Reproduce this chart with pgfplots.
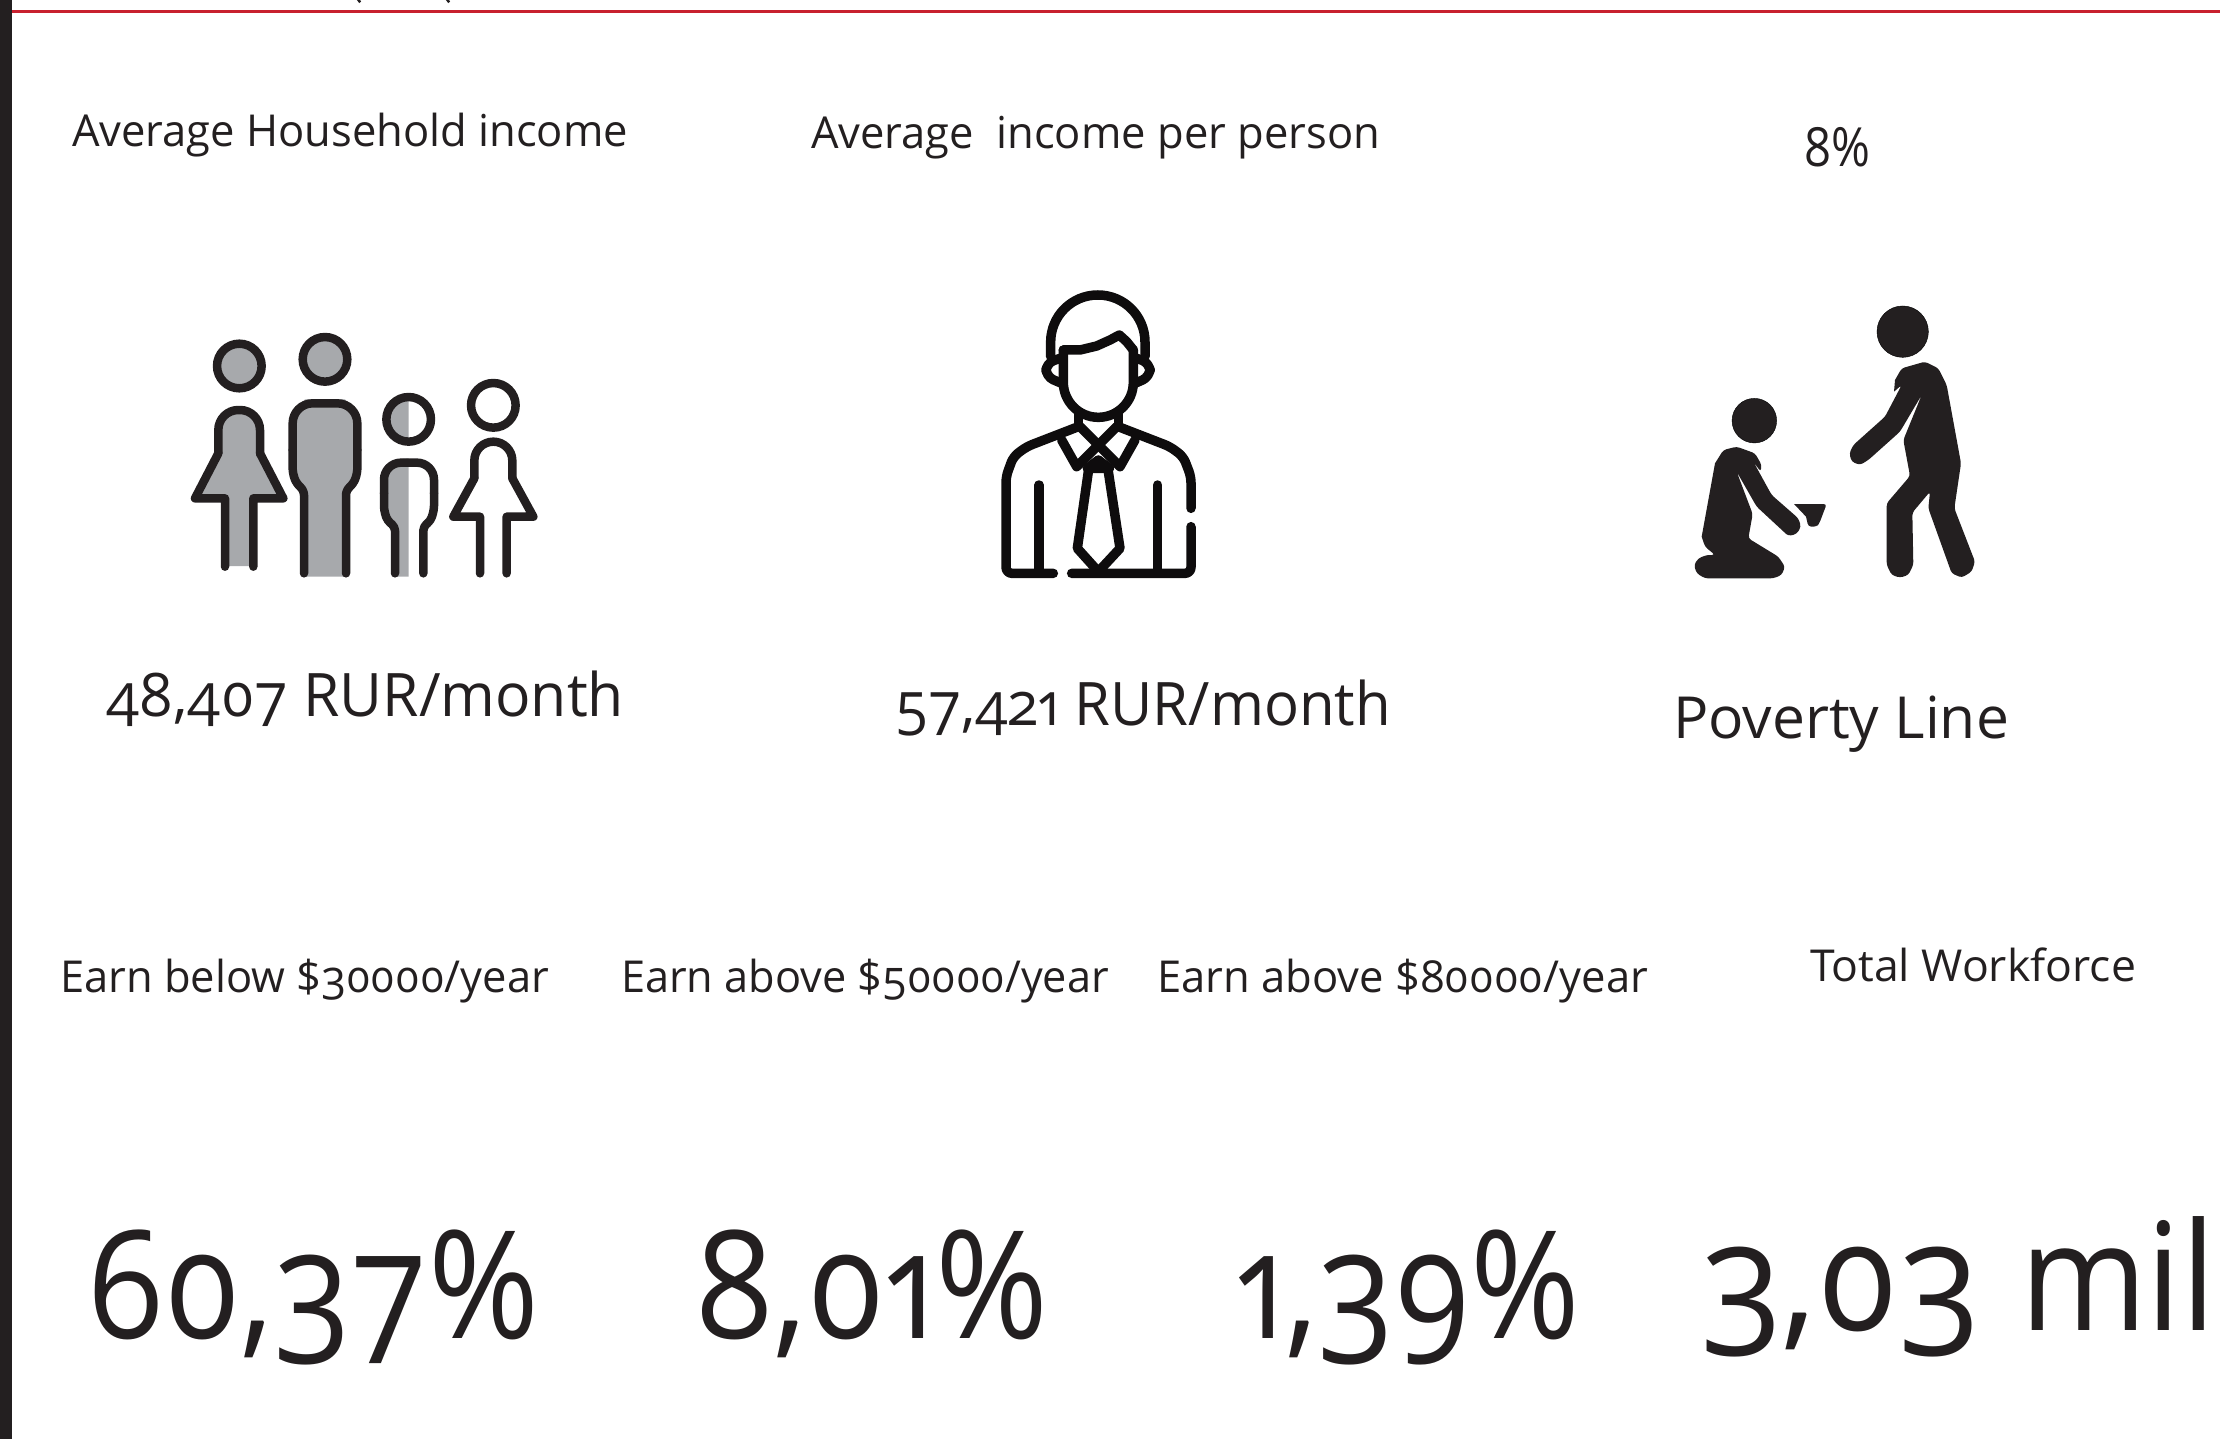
\documentclass[border=0pt]{standalone}
\usepackage{pgfplots}
\usepackage{fontspec}
\pgfplotsset{compat=1.18}
\setmainfont[Numbers=OldStyle]{Open Sans}
\definecolor{ink}{HTML}{231F20}
\definecolor{maninks}{HTML}{0E0C0D}
\definecolor{bodygray}{HTML}{A7A9AC}
\definecolor{redline}{HTML}{C8202F}
% x, baseline y, font size, width, text (all in px of the reference)
\newcommand{\lab}[5]{\node[anchor=base west,inner sep=0pt,outer sep=0pt,text=ink] at (#1,#2)
  {\resizebox{#4pt}{\height}{\fontsize{#3pt}{#3pt}\selectfont #5}};}
\pgfplotsset{
  famz/.style={x filter/.expression={170+x/3},y filter/.expression={310+y/3}},
  manz/.style={x filter/.expression={980+x/3},y filter/.expression={280+y/3},draw=maninks,line width=9.5pt},
  povz/.style={x filter/.expression={1670+x/3},y filter/.expression={290+y/3}},
  stroke/.style={draw=ink,line width=8.5pt,line cap=round,line join=round,fill=none,no markers},
  gfill/.style={draw=none,fill=bodygray,no markers},
  solid ink/.style={draw=none,fill=ink,no markers,rounded corners=3pt},
}
\begin{document}
\begin{tikzpicture}
\begin{axis}[
  width=2220pt,height=1439pt,scale only axis,
  xmin=0,xmax=2220,ymin=0,ymax=1439,y dir=reverse,
  hide axis,clip=true,clip mode=global,
]
% frame
\addplot[draw=none,fill=ink,no markers] coordinates {(0,0)(12,0)(12,1439)(0,1439)};
\addplot[draw=redline,line width=3pt,no markers] coordinates {(12,11.5)(2220,11.5)};
\addplot[draw=ink,line width=4pt,no markers] coordinates {(360,0)(358,1.5)};
\addplot[draw=ink,line width=4pt,no markers] coordinates {(449,0)(447,1.5)};

% family icon: gray parts
\addplot[gfill,famz] coordinates {(165,768)(165,565)(75,565)(145,430)(145,350)(170,312)(208,300)(246,312)(270,350)(270,430)(340,565)(250,565)(250,768)};
\addplot[gfill,famz] coordinates {(402,800)(402,540)(368,505)(368,320)(405,268)(525,268)(562,320)(562,505)(528,540)(528,800)};
\addplot[gfill,famz] coordinates {(675,800)(675,650)(642,605)(642,490)(675,448)(716,445)(716,800)};
\addplot[gfill,famz] coordinates {(716,261)(682,270)(657,295)(649,328)(657,361)(682,386)(716,395)};
\addplot[only marks,mark=*,mark size=22.3pt,mark options={draw=none,fill=bodygray},famz] coordinates {(208,168)(465,148)};
% family icon: outlines
\addplot[only marks,mark=o,mark size=22.3pt,mark options={draw=ink,line width=8.5pt},famz] coordinates {(208,168)(465,148)(716,328)(970,286)};
\addplot[stroke,famz,rounded corners=20pt] coordinates {(145,430)(145,300)(270,300)(270,430)};
\addplot[stroke,famz] coordinates {(165,770)(165,565)(75,565)(145,430)};
\addplot[stroke,famz] coordinates {(250,770)(250,565)(340,565)(270,430)};
\addplot[stroke,famz,rounded corners=20pt] coordinates {(368,420)(368,280)(562,280)(562,420)};
\addplot[stroke,famz,rounded corners=5pt] coordinates {(402,790)(402,540)(380,522)(368,490)(368,420)};
\addplot[stroke,famz,rounded corners=5pt] coordinates {(528,790)(528,540)(550,522)(562,490)(562,420)};
\addplot[stroke,famz,rounded corners=17pt] coordinates {(642,550)(642,458)(792,458)(792,550)};
\addplot[stroke,famz,rounded corners=4pt] coordinates {(675,790)(675,650)(652,632)(642,600)(642,550)};
\addplot[stroke,famz,rounded corners=4pt] coordinates {(760,790)(760,650)(782,632)(792,600)(792,550)};
\addplot[stroke,famz,rounded corners=19pt] coordinates {(913,505)(913,395)(1027,395)(1027,505)};
\addplot[stroke,famz] coordinates {(930,790)(930,620)(850,620)(913,505)};
\addplot[stroke,famz] coordinates {(1010,790)(1010,620)(1090,620)(1027,505)};

% man with tie
\addplot[stroke,manz,rounded corners=47pt] coordinates {(212,230)(212,45)(495,45)(495,230)};
\addplot[stroke,manz,rounded corners=35pt] coordinates {(250,210)(250,412)(460,412)(460,210)};
\addplot[stroke,manz] coordinates {(250,210)(300,210)(350,198)(390,180)(418,165)(440,185)(460,210)};
\addplot[stroke,manz,rounded corners=8pt] coordinates {(240,235)(198,250)(198,290)(245,310)};
\addplot[stroke,manz,rounded corners=8pt] coordinates {(470,235)(510,250)(510,290)(465,310)};
\addplot[stroke,manz] coordinates {(295,400)(295,440)};
\addplot[stroke,manz] coordinates {(415,400)(415,440)};
\addplot[stroke,manz,rounded corners=6pt] coordinates {(295,440)(140,500)(100,530)(78,590)(78,880)(220,880)};
\addplot[stroke,manz,rounded corners=6pt] coordinates {(415,440)(570,500)(610,530)(633,590)(633,685)};
\addplot[stroke,manz,rounded corners=6pt] coordinates {(633,740)(633,880)(275,880)};
\addplot[stroke,manz] coordinates {(177,615)(177,875)};
\addplot[stroke,manz] coordinates {(533,615)(533,875)};
\addplot[stroke,manz] coordinates {(300,440)(420,560)(465,480)};
\addplot[stroke,manz] coordinates {(410,440)(290,560)(245,480)};
\addplot[stroke,manz] coordinates {(322,565)(355,540)(388,565)(322,565)};
\addplot[stroke,manz] coordinates {(325,575)(292,805)(355,875)(420,805)(385,575)};

% standing and kneeling figures
\addplot[only marks,mark=*,mark size=25.7pt,mark options={draw=none,fill=ink},povz] coordinates {(698,125)};
\addplot[only marks,mark=*,mark size=22.3pt,mark options={draw=none,fill=ink},povz] coordinates {(253,392)};
\addplot[solid ink,povz] coordinates {(675,270)(695,235)(765,215)(805,235)(830,285)(873,520)(853,655)(915,815)(905,845)(875,863)(845,850)(775,655)(780,605)(727,668)(730,825)(715,855)(690,863)(665,855)(650,825)(650,640)(720,558)(700,450)(755,315)(690,425)(595,510)(570,525)(545,515)(538,490)(550,465)(645,380)(695,285)(672,305)};
\addplot[solid ink,povz] coordinates {(135,520)(160,480)(200,470)(255,490)(275,525)(272,545)(250,515)(305,615)(385,685)(393,710)(380,732)(355,738)(260,650)(200,545)(248,672)(235,745)(325,800)(345,830)(335,855)(310,865)(105,865)(80,850)(72,825)(85,805)(110,795)(135,795)(105,770)(95,740)};
\addplot[solid ink,povz] coordinates {(372,642)(470,642)(448,700)(440,710)(415,710)(408,680)};

% labels
\lab{72}{147}{44}{556}{Average Household income}
\lab{811}{149}{44}{569}{Average \ income per person}
\lab{1804}{167}{54}{66}{8\%}
\lab{106}{716}{60}{518}{48,407 RUR/month}
\lab{895}{725}{60}{496}{57,421 RUR/month}
\lab{1673}{738}{58}{336}{Poverty Line}
\lab{60}{992}{44}{489}{Earn below \$30000/year}
\lab{621}{992}{44}{488}{Earn above \$50000/year}
\lab{1157}{992}{44}{491}{Earn above \$80000/year}
\lab{1810}{981}{44}{326}{Total Workforce}
\lab{87}{1338}{150}{452}{60,37\%}
\lab{695}{1338}{150}{354}{8,01\%}
\lab{1236}{1338}{150}{344}{1,39\%}
\lab{1700}{1330}{150}{280}{3,03}
\lab{2020}{1330}{150}{196}{mil}
\end{axis}
\end{tikzpicture}
\end{document}
